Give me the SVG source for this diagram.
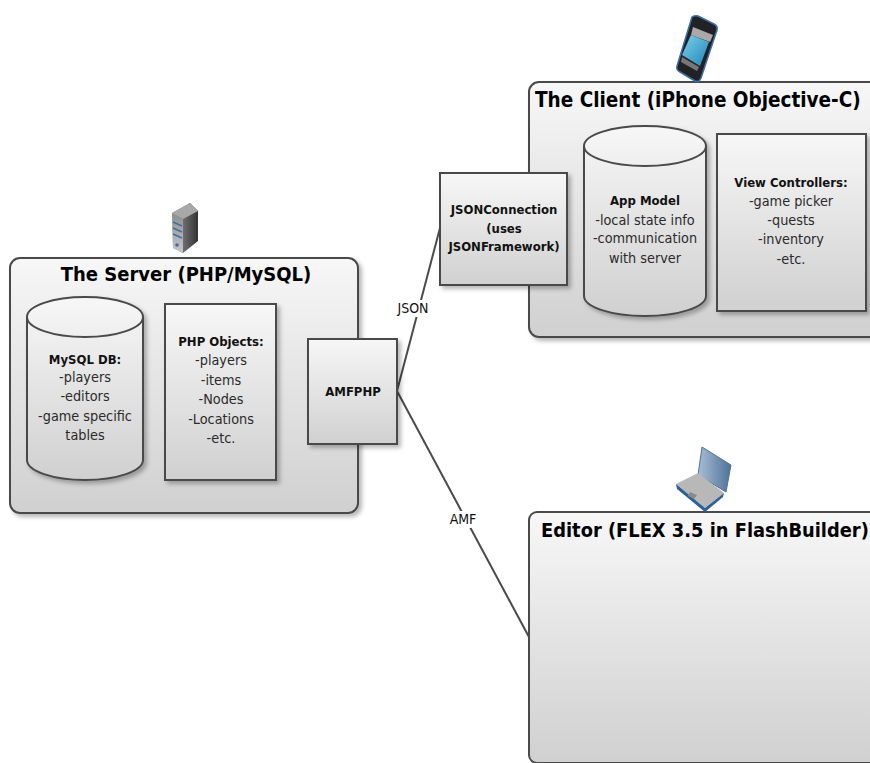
<svg xmlns="http://www.w3.org/2000/svg" width="870" height="763" viewBox="0 0 870 763">
<style>
.s{stroke:#4a4a4a;stroke-width:2;fill:url(#g)}
.c{fill:none;stroke:#4a4a4a;stroke-width:2}
.t{font-family:"DejaVu Sans Condensed","DejaVu Sans",sans-serif;font-weight:bold;font-size:20px;fill:#000}
.h{font-family:"DejaVu Sans Condensed","DejaVu Sans",sans-serif;font-weight:bold;font-size:13px;fill:#111;text-anchor:middle}
.b{font-family:"DejaVu Sans Condensed","DejaVu Sans",sans-serif;font-size:14.3px;fill:#2a2a2a;text-anchor:middle}
.l{font-family:"DejaVu Sans Condensed","DejaVu Sans",sans-serif;font-size:14px;fill:#111;text-anchor:middle}
</style>
<defs>
<linearGradient id="g" x1="0" y1="0" x2="0" y2="1"><stop offset="0" stop-color="#f7f7f7"/><stop offset="1" stop-color="#d0d0d0"/></linearGradient>
<linearGradient id="sv" x1="0" y1="0" x2="1" y2="0"><stop offset="0" stop-color="#9a9a9a"/><stop offset="1" stop-color="#333"/></linearGradient>
<linearGradient id="sf" x1="0" y1="0" x2="0" y2="1"><stop offset="0" stop-color="#8d8d8d"/><stop offset="1" stop-color="#c4c8cc"/></linearGradient>
<linearGradient id="sc" x1="0" y1="0" x2="1" y2="1"><stop offset="0" stop-color="#7fd0ea"/><stop offset="1" stop-color="#1f86b8"/></linearGradient>
<linearGradient id="lp" x1="0" y1="0" x2="1" y2="0"><stop offset="0" stop-color="#a9bdd4"/><stop offset="1" stop-color="#4f7299"/></linearGradient>
<filter id="sh" x="-10%" y="-10%" width="125%" height="125%"><feDropShadow dx="3" dy="3" stdDeviation="2" flood-color="#000" flood-opacity=".28"/></filter>
<filter id="bl" x="-10%" y="-10%" width="120%" height="120%"><feGaussianBlur stdDeviation=".6"/></filter>
</defs>

<g id="connectors">
<line class="c" x1="397" y1="391" x2="440" y2="228"/>
<line class="c" x1="397" y1="391" x2="529" y2="637"/>
</g>

<g id="server">
<rect class="s" x="10" y="258" width="348" height="255" rx="10" filter="url(#sh)"/>
<text class="t" x="186" y="281" text-anchor="middle">The Server (PHP/MySQL)</text>
</g>
<g id="server-icon" filter="url(#bl)">
<polygon points="172,213 190,203 198,211 198,241 183,253 173,248" fill="url(#sv)"/>
<polygon points="172,213 190,203 198,211 183,219" fill="#a8a8a8"/>
<polygon points="172,213 183,219 183,253 173,248" fill="url(#sf)"/>
<path d="M173 222l9 4M173 228l9 4M173 234l9 4" stroke="#3f6ea0" stroke-width="1.5"/>
<circle cx="177" cy="245" r="1.8" fill="#3f6ea0"/>
</g>
<g id="mysql-db">
<path class="s" filter="url(#sh)" d="M27 317A58 20 0 0 1 143 317V460A58 20 0 0 1 27 460Z"/>
<path class="c" d="M27 317A58 20 0 0 0 143 317"/>
<text class="h" x="85" y="364">MySQL DB:</text>
<text class="b" x="85" y="382">-players</text>
<text class="b" x="85" y="401">-editors</text>
<text class="b" x="85" y="421">-game specific</text>
<text class="b" x="85" y="440">tables</text>
</g>
<g id="php-objects">
<rect class="s" x="165" y="304" width="111" height="176" filter="url(#sh)"/>
<text class="h" x="221" y="346">PHP Objects:</text>
<text class="b" x="221" y="365">-players</text>
<text class="b" x="221" y="385">-items</text>
<text class="b" x="221" y="404">-Nodes</text>
<text class="b" x="221" y="424">-Locations</text>
<text class="b" x="221" y="443">-etc.</text>
</g>
<g id="amfphp">
<rect class="s" x="308" y="339" width="89" height="105" filter="url(#sh)"/>
<text class="h" x="353" y="396">AMFPHP</text>
</g>

<g id="client">
<rect class="s" x="529" y="82" width="361" height="255" rx="10" filter="url(#sh)"/>
<text class="t" x="535" y="107" style="font-size:20.5px">The Client (iPhone Objective-C)</text>
</g>
<g id="client-icon" filter="url(#bl)">
<path d="M692 17Q695 15 698 16L714 24Q718 26 717 30L701 78Q699 83 695 81L680 72Q676 70 677 66Z" fill="#232327" stroke="#3a70a8" stroke-width="1.5"/>
<polygon points="693,27 713,35 710,42 691,35" fill="#a9a9a9"/>
<polygon points="691,35 709,42 700,66 682,55" fill="url(#sc)"/>
<polygon points="682,57 699,67 697,71 681,62" fill="#777"/>
</g>
<g id="json-connection">
<rect class="s" x="440" y="173" width="127" height="112" filter="url(#sh)"/>
<text class="h" x="504" y="214">JSONConnection</text>
<text class="h" x="504" y="233">(uses</text>
<text class="h" x="504" y="251">JSONFramework)</text>
</g>
<g id="app-model">
<path class="s" filter="url(#sh)" d="M584 146A61 20 0 0 1 706 146V296A61 20 0 0 1 584 296Z"/>
<path class="c" d="M584 146A61 20 0 0 0 706 146"/>
<text class="h" x="645" y="205">App Model</text>
<text class="b" x="645" y="225">-local state info</text>
<text class="b" x="645" y="243">-communication</text>
<text class="b" x="645" y="263">with server</text>
</g>
<g id="view-controllers">
<rect class="s" x="717" y="134" width="149" height="177" filter="url(#sh)"/>
<text class="h" x="791" y="187">View Controllers:</text>
<text class="b" x="791" y="206">-game picker</text>
<text class="b" x="791" y="225">-quests</text>
<text class="b" x="791" y="244">-inventory</text>
<text class="b" x="791" y="264">-etc.</text>
</g>

<g id="editor">
<rect class="s" x="529" y="512" width="361" height="251" rx="8"/>
<text class="t" x="541" y="537" style="font-size:19.85px">Editor (FLEX 3.5 in FlashBuilder)</text>
</g>
<g id="editor-icon" filter="url(#bl)">
<polygon points="702,447 731,465 726,492 698,475" fill="url(#lp)" stroke="#4f7299"/>
<polygon points="676,484 698,473 724,493 705,508" fill="#b8b8b8"/>
<polygon points="676,484 705,508 724,493 723,497 705,512 677,489" fill="#2f6096"/>
<polygon points="690,492 697,495 694,499 688,496" fill="#8a8a8a"/>
</g>

<g id="labels">
<rect x="396" y="300" width="35" height="17" fill="#fff"/>
<text class="l" x="413" y="313">JSON</text>
<rect x="447" y="511" width="33" height="17" fill="#fff"/>
<text class="l" x="463" y="524">AMF</text>
</g>
</svg>
